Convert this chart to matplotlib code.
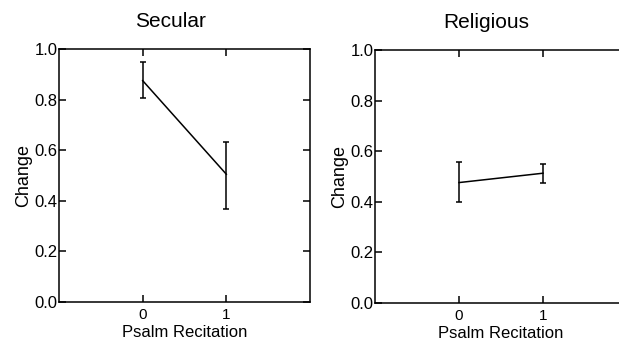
import matplotlib
matplotlib.use('Agg')
import matplotlib.pyplot as plt

plt.rcParams['font.family'] = ['Liberation Sans', 'DejaVu Sans']

# data
conditions = [0, 1]
secular_mean = [0.875, 0.505]
secular_low = [0.805, 0.366]
secular_high = [0.947, 0.634]
religious_mean = [0.476, 0.513]
religious_low = [0.398, 0.474]
religious_high = [0.556, 0.550]
panel_titles = ['Secular', 'Religious']
y_ticks = [0.0, 0.2, 0.4, 0.6, 0.8, 1.0]

fig = plt.figure(figsize=(6.19, 3.43), dpi=100)
ax1 = fig.add_axes([59/619, 1-302/343, 251/619, 253/343])
ax2 = fig.add_axes([375/619, 1-303/343, 252/619, 253/343])

panels = [(ax1, secular_mean, secular_low, secular_high),
          (ax2, religious_mean, religious_low, religious_high)]

for (ax, mean, low, high), title in zip(panels, panel_titles):
    yerr = [[m - l for m, l in zip(mean, low)], [h - m for m, h in zip(mean, high)]]
    ax.errorbar(conditions, mean, yerr=yerr, color='black', linewidth=1.1,
                elinewidth=1.1, capsize=2.5, capthick=1.1)
    ax.set_xlim(-1, 2)
    ax.set_ylim(0, 1)
    ax.set_xticks(conditions)
    ax.set_yticks(y_ticks)
    ax.set_yticklabels(['%.1f' % t for t in y_ticks])
    ax.tick_params(direction='in', length=5, width=1.1, top=True, right=True,
                   labelsize=12, pad=1)
    ax.tick_params(axis='x', pad=4, labelsize=11)
    for s in ax.spines.values():
        s.set_linewidth(1.1)
    ax.set_xlabel('Psalm Recitation', fontsize=12)
    ax.xaxis.set_label_coords(0.5, -0.09)
    ax.set_ylabel('Change', fontsize=13, labelpad=2)
    ax.text(0.443, 1.07, title, transform=ax.transAxes, ha='center',
            va='bottom', fontsize=15)

# right panel runs past the image edge in the reference
ax2.spines['right'].set_visible(False)
ax2.tick_params(right=False)

fig.savefig('out.png', dpi=100)
